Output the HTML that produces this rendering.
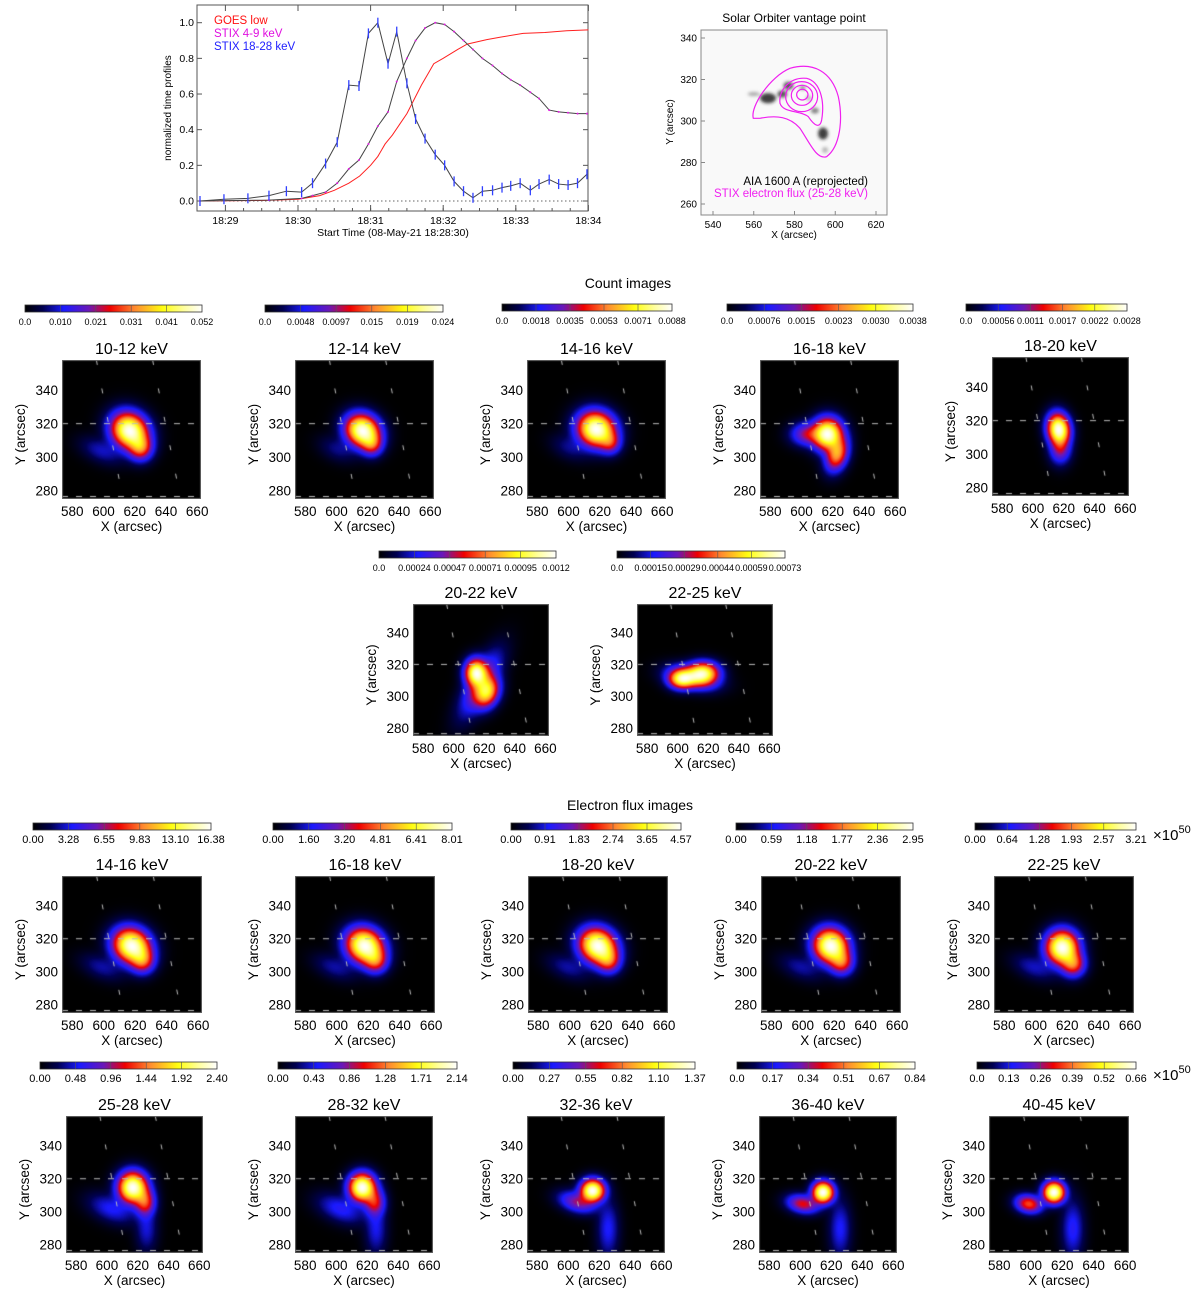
<!DOCTYPE html>
<html><head><meta charset="utf-8"><title>STIX flare figure</title>
<style>html,body{margin:0;padding:0;background:#fff}body{position:relative;width:1200px;height:1310px;overflow:hidden}svg{display:block;font-family:"Liberation Sans",Arial,sans-serif;position:absolute;left:0;top:0}canvas{position:absolute}</style>
</head><body>
<svg id="fig" width="1200" height="1310" viewBox="0 0 1200 1310" xmlns="http://www.w3.org/2000/svg">
<defs>
<linearGradient id="cmap" x1="0" x2="1" y1="0" y2="0">
<stop offset="0" stop-color="#000"/><stop offset="0.1" stop-color="#000050"/><stop offset="0.22" stop-color="#1a1aff"/>
<stop offset="0.36" stop-color="#6a18b8"/><stop offset="0.48" stop-color="#f00000"/><stop offset="0.62" stop-color="#ff8a30"/>
<stop offset="0.78" stop-color="#ffff10"/><stop offset="0.9" stop-color="#ffffa0"/><stop offset="1" stop-color="#fff"/>
</linearGradient>
<filter id="blr3" x="-50%" y="-50%" width="200%" height="200%"><feGaussianBlur stdDeviation="1.6"/></filter>
</defs>
<g id="root"></g>
</svg>
<script>
// ---------- time profile data (minutes after 18:28) ----------
const hxrTimes = [0.65,0.98,1.31,1.60,1.84,2.05,2.20,2.38,2.54,2.70,2.84,2.97,3.10,3.24,3.36,3.50,3.62,3.75,3.89,4.02,4.15,4.28,4.41,4.54,4.68,4.81,4.93,5.06,5.20,5.32,5.46,5.59,5.72,5.85,5.98];
const hxrValues = [0,0.01,0.015,0.03,0.055,0.05,0.10,0.21,0.33,0.65,0.645,0.94,1.0,0.77,0.95,0.66,0.46,0.35,0.26,0.20,0.11,0.055,0.018,0.055,0.06,0.075,0.085,0.10,0.06,0.095,0.12,0.095,0.09,0.10,0.15];
const sxrTimes = [0.65,1.60,2.05,2.20,2.38,2.54,2.70,2.84,2.97,3.10,3.24,3.36,3.50,3.62,3.75,3.89,4.02,4.15,4.28,4.41,4.54,4.68,4.81,4.93,5.06,5.20,5.32,5.46,5.59,5.72,5.85,5.98];
const sxrValues = [0,0.005,0.015,0.03,0.05,0.10,0.18,0.23,0.32,0.42,0.50,0.67,0.80,0.90,0.97,1.0,0.99,0.95,0.90,0.85,0.80,0.76,0.715,0.68,0.65,0.61,0.575,0.51,0.50,0.495,0.49,0.49];
const goesTimes = [0.65,1.5,2.0,2.3,2.5,2.7,2.85,3.0,3.1,3.2,3.3,3.4,3.5,3.6,3.7,3.8,3.87,4.0,4.2,4.33,4.6,4.8,5.1,5.4,5.7,6.0];
const goesValues = [0,0.003,0.01,0.03,0.06,0.10,0.14,0.20,0.25,0.32,0.37,0.43,0.49,0.57,0.65,0.72,0.77,0.80,0.85,0.88,0.905,0.92,0.94,0.945,0.955,0.96];
const timeTickLabels = ["18:29","18:30","18:31","18:32","18:33","18:34"];
const timeTickMinutes = [1,2,3,4,5,6];
const profTickValues = [0,0.2,0.4,0.6,0.8,1.0];

// ---------- image panels ----------
const panelTitles = ["10-12 keV","12-14 keV","14-16 keV","16-18 keV","18-20 keV","20-22 keV","22-25 keV",
 "14-16 keV","16-18 keV","18-20 keV","20-22 keV","22-25 keV","25-28 keV","28-32 keV","32-36 keV","36-40 keV","40-45 keV"];
const colorbarTicks = [
 ["0.0","0.010","0.021","0.031","0.041","0.052"],
 ["0.0","0.0048","0.0097","0.015","0.019","0.024"],
 ["0.0","0.0018","0.0035","0.0053","0.0071","0.0088"],
 ["0.0","0.00076","0.0015","0.0023","0.0030","0.0038"],
 ["0.0","0.00056","0.0011","0.0017","0.0022","0.0028"],
 ["0.0","0.00024","0.00047","0.00071","0.00095","0.0012"],
 ["0.0","0.00015","0.00029","0.00044","0.00059","0.00073"],
 ["0.00","3.28","6.55","9.83","13.10","16.38"],
 ["0.00","1.60","3.20","4.81","6.41","8.01"],
 ["0.00","0.91","1.83","2.74","3.65","4.57"],
 ["0.00","0.59","1.18","1.77","2.36","2.95"],
 ["0.00","0.64","1.28","1.93","2.57","3.21"],
 ["0.00","0.48","0.96","1.44","1.92","2.40"],
 ["0.00","0.43","0.86","1.28","1.71","2.14"],
 ["0.00","0.27","0.55","0.82","1.10","1.37"],
 ["0.0","0.17","0.34","0.51","0.67","0.84"],
 ["0.0","0.13","0.26","0.39","0.52","0.66"]];
// source components per panel: [x arcsec, y arcsec, sigmaX, sigmaY, rotation deg, peak]
const sources = [
 [[619,316,7,6,-30,1],[626,306,4.5,4.5,0,0.4],[601,304,8,4,-20,0.06]],
 [[619,316,6.5,5.5,-25,1],[625,308,4,4,0,0.3],[603,305,7,4,-20,0.04]],
 [[620,317,7,6,-15,1],[629,309,4,4,0,0.25],[603,306,7,4,-20,0.04]],
 [[619,314,5.5,5.5,0,1],[625,302,4,6,-20,0.5],[606,314,6,4,0,0.25]],
 [[619,315,4.2,5.5,10,1],[620,303,4,5,0,0.22]],
 [[617,315,4.2,5,0,1],[624,303,4.5,6,-25,0.7],[620,308,5,13,-30,0.25]],
 [[605,311,5,3.5,0,0.85],[619,315,6,4,0,0.95],[612,312,9,4,-10,0.55]],
 [[620,316,7,6,-25,1],[627,307,4.5,4.5,0,0.35],[601,303,8,4,-20,0.05]],
 [[620,316,7,6,-25,1],[627,307,4.5,4.5,0,0.33],[601,303,8,4,-20,0.05]],
 [[620,316,7,6,-25,1],[627,307,4.5,4.5,0,0.33],[601,303,8,4,-20,0.05]],
 [[620,316,6.5,6,-25,1],[627,306,4.5,4.5,0,0.35],[601,303,8,4,-20,0.05]],
 [[619,315,6,6,-15,1],[626,305,4.5,4.5,0,0.4],[601,303,8,4,-20,0.06]],
 [[619,315,5.5,5.5,0,1],[627,306,4,5,0,0.35],[605,302,9,4.5,-20,0.09],[628,290,4,8,0,0.07]],
 [[619,315,5,5,0,1],[627,306,4,5,0,0.3],[605,302,9,4.5,-20,0.1],[628,290,4,9,0,0.08]],
 [[618,313,4.5,4,0,1],[608,306,7,3.5,-15,0.22],[628,290,4,10,0,0.09]],
 [[617,312,4,3.8,0,1],[604,305,6,3.2,-10,0.3],[628,290,4,10,0,0.09]],
 [[617,312,4,3.8,0,1],[601,305,5,3.2,-10,0.38],[629,290,4,10,0,0.1]]];
const xTickValues = [580,600,620,640,660];
const yTickValues = [280,300,320,340];
const aiaXTicks = [540,560,580,600,620];
const aiaYTicks = [260,280,300,320,340];

// ---------- layout (not data) ----------
const layout = [
 {l:62,t:360,w:139,h:139,cb:[25,305,177]},{l:295,t:360,w:139,h:139,cb:[265,305,178]},
 {l:527,t:360,w:139,h:139,cb:[502,304,170]},{l:760,t:360,w:139,h:139,cb:[727,304,186]},
 {l:992,t:357,w:137,h:139,cb:[966,304,161]},
 {l:413,t:604,w:136,h:132,cb:[379,551,177]},{l:637,t:604,w:136,h:132,cb:[617,551,168]},
 {l:62,t:876,w:140,h:137,cb:[33,823,178]},{l:295,t:876,w:140,h:137,cb:[273,823,179]},
 {l:528,t:876,w:140,h:137,cb:[511,823,170]},{l:761,t:876,w:140,h:137,cb:[736,823,177]},
 {l:994,t:876,w:140,h:137,cb:[975,823,161]},
 {l:66,t:1116,w:137,h:137,cb:[40,1062,177]},{l:295,t:1116,w:138,h:137,cb:[278,1062,179]},
 {l:527,t:1116,w:138,h:137,cb:[513,1062,182]},{l:759,t:1116,w:138,h:137,cb:[737,1062,178]},
 {l:989,t:1116,w:140,h:137,cb:[977,1062,159]}];

const NS="http://www.w3.org/2000/svg";
const root=document.getElementById('root');
function mk(tag,attrs,parent,txt){const e=document.createElementNS(NS,tag);for(const k in attrs)e.setAttribute(k,attrs[k]);if(txt!==undefined)e.textContent=txt;(parent||root).appendChild(e);return e;}

// ===== Time profile chart =====
const tp=mk('g',{});


const PX0=197,PX1=588,PY0=5,PY1=211;
const tx=t=>225.4+(t-1)*72.6, ty=v=>201-v*178.3;
mk('rect',{x:PX0,y:PY0,width:PX1-PX0,height:PY1-PY0,fill:'none',stroke:'#555','stroke-width':1},tp);
mk('line',{x1:PX0,x2:PX1,y1:ty(0),y2:ty(0),stroke:'#666','stroke-dasharray':'1.5,2.5','stroke-width':1},tp);
profTickValues.forEach((v,i)=>{
 mk('line',{x1:PX0,x2:PX0+5,y1:ty(v),y2:ty(v),stroke:'#555'},tp);
 mk('line',{x1:PX1,x2:PX1-5,y1:ty(v),y2:ty(v),stroke:'#555'},tp);
 const t=mk('text',{x:194,y:ty(v)+3.5,'font-size':10.5,'text-anchor':'end'},tp,v.toFixed(1));
 
 
});
timeTickMinutes.forEach((m,i)=>{
 mk('line',{x1:tx(m),x2:tx(m),y1:PY1,y2:PY1-6,stroke:'#555'},tp);
 mk('line',{x1:tx(m),x2:tx(m),y1:PY0,y2:PY0+6,stroke:'#555'},tp);
 const t=mk('text',{x:tx(m),y:224,'font-size':10.5,'text-anchor':'middle'},tp,timeTickLabels[i]);
 
 
});
for(let m=1.25;m<6;m+=0.25){mk('line',{x1:tx(m),x2:tx(m),y1:PY1,y2:PY1-3,stroke:'#555'},tp);}
let xt=mk('text',{x:393,y:236,'font-size':10.5,'text-anchor':'middle'},tp,'Start Time (08-May-21 18:28:30)');

let yt=mk('text',{x:171,y:108,'font-size':10,'text-anchor':'middle',transform:'rotate(-90 171 108)'},tp,'normalized time profiles');

function poly(ts,vs,col,w){return mk('polyline',{points:ts.map((t,i)=>tx(t)+','+ty(vs[i])).join(' '),fill:'none',stroke:col,'stroke-width':w},tp);}
const gl=poly(goesTimes,goesValues,'#ff2020',1);

const sl=poly(sxrTimes,sxrValues,'#444',1);

sxrTimes.forEach((t,i)=>{const c=mk('circle',{cx:tx(t),cy:ty(sxrValues[i]),r:1,fill:'#e020e0'},tp);
 });
const hl=poly(hxrTimes,hxrValues,'#444',1);

hxrTimes.forEach((t,i)=>{const e=mk('line',{x1:tx(t),x2:tx(t),y1:ty(hxrValues[i])-5,y2:ty(hxrValues[i])+5,stroke:'#3040ff','stroke-width':1.3},tp);
 });
[['GOES low','#ff1010',24],['STIX 4-9 keV','#e010e0',37],['STIX 18-28 keV','#2020ff',50]].forEach(a=>{
 const t=mk('text',{x:214,y:a[2],'font-size':11.5,fill:a[1]},tp,a[0]);
 });

// ===== AIA panel =====
const ap=mk('g',{});


const ax=x=>713+(x-540)*2.0375, ay=y=>38+(340-y)*2.075;
mk('rect',{x:701,y:30,width:186,height:185,fill:'#f9f9f9',stroke:'#888'},ap);
const sm=mk('g',{filter:'url(#blr3)'},ap);
[[567,311,4,2.5,'#222',0.85],[560,313,3,1,'#777',0.6],[574,313,2.5,1.8,'#333',0.8],[577,317,2.5,2,'#333',0.8],[584,316,1.5,1.2,'#666',0.7],[590,305,2,1.5,'#555',0.7],[594,294,2.5,3,'#222',0.85],[595,286,1.5,1.5,'#888',0.6],[587,311,1.5,1.5,'#999',0.6]].forEach(s=>{
 mk('ellipse',{cx:ax(s[0]),cy:ay(s[1]),rx:s[2]*2,ry:s[3]*2,fill:s[4],opacity:s[5]},sm);});
const cg=mk('g',{fill:'none',stroke:'#f020f0','stroke-width':1.2,transform:'translate(640,0) scale(0.3333)'},ap);

mk('path',{d:'M340,355 C330,320 390,230 450,205 C520,185 575,215 595,290 C610,360 600,440 560,470 C530,480 510,430 480,385 C450,350 410,345 360,355 Z','stroke-width':3.6},cg);
mk('path',{d:'M420,310 C415,270 450,230 500,235 C540,245 555,300 545,360 C540,385 525,380 505,350 C480,330 430,340 420,310 Z','stroke-width':3.6},cg);
mk('ellipse',{cx:485,cy:290,rx:48,ry:45,'stroke-width':3.6},cg);
mk('ellipse',{cx:486,cy:286,rx:32,ry:30,'stroke-width':3.6},cg);
mk('ellipse',{cx:487,cy:284,rx:17,ry:16,'stroke-width':3.6},cg);
aiaXTicks.forEach(v=>{mk('line',{x1:ax(v),x2:ax(v),y1:215,y2:211,stroke:'#888'},ap);
 mk('text',{x:ax(v),y:228,'font-size':10,'text-anchor':'middle'},ap,String(v));});
aiaYTicks.forEach(v=>{mk('line',{x1:701,x2:705,y1:ay(v),y2:ay(v),stroke:'#888'},ap);
 mk('text',{x:697,y:ay(v)+3.5,'font-size':10,'text-anchor':'end'},ap,String(v));});
mk('text',{x:794,y:238,'font-size':10,'text-anchor':'middle'},ap,'X (arcsec)');
mk('text',{x:673,y:122,'font-size':10,'text-anchor':'middle',transform:'rotate(-90 673 122)'},ap,'Y (arcsec)');
mk('text',{x:794,y:22,'font-size':12,'text-anchor':'middle'},ap,'Solar Orbiter vantage point');
mk('text',{x:868,y:185,'font-size':11.5,'text-anchor':'end'},ap,'AIA 1600 A (reprojected)');
mk('text',{x:868,y:197,'font-size':11.5,'text-anchor':'end',fill:'#f020f0'},ap,'STIX electron flux (25-28 keV)');

// section headers
let h1=mk('text',{x:628,y:288,'font-size':14,'text-anchor':'middle'},root,'Count images');

let h2=mk('text',{x:630,y:810,'font-size':14,'text-anchor':'middle'},root,'Electron flux images');

[[1153,840],[1153,1080]].forEach(p=>{const t=mk('text',{x:p[0],y:p[1],'font-size':15},root);
 
 t.innerHTML='×10<tspan dy="-7" font-size="11">50</tspan>';});

// ===== colormap =====
const cmStops=[[0,0,0,0],[0.1,0,0,80],[0.22,26,26,255],[0.36,106,24,184],[0.48,240,0,0],[0.62,255,138,48],[0.78,255,255,16],[0.9,255,255,160],[1,255,255,255]];
function cmap(v){v=Math.max(0,Math.min(1,v));for(let i=1;i<cmStops.length;i++){if(v<=cmStops[i][0]){const a=cmStops[i-1],b=cmStops[i],f=(v-a[0])/(b[0]-a[0]);return [a[1]+(b[1]-a[1])*f,a[2]+(b[2]-a[2])*f,a[3]+(b[3]-a[3])*f];}}return [255,255,255];}

// ===== Image panels =====
panelTitles.forEach((title,pi)=>{
 const L=layout[pi];
 const g=mk('g',{});
 
 
 const cb=L.cb;
 const cr=mk('rect',{x:cb[0],y:cb[1],width:cb[2],height:7,fill:'url(#cmap)',stroke:'#333','stroke-width':0.8},g);
 
 colorbarTicks[pi].forEach((lab,i)=>{
  const x=cb[0]+cb[2]*i/5;
  if(i>0&&i<5)mk('line',{x1:x,x2:x,y1:cb[1],y2:cb[1]+7,stroke:'#555','stroke-width':0.6},g);
  const t=mk('text',{x:x,y:cb[1]+20,'font-size':pi>=7?11:9,'text-anchor':'middle'},g,lab);
  
 });
 const tt=mk('text',{x:L.l+L.w/2,y:L.t-6,'font-size':16,'text-anchor':'middle'},g,title);
 
 const X=x=>(x-576)/89*L.w, Y=y=>(358-y)/83*L.h;
 const cv=document.createElement('canvas');
 cv.width=L.w;cv.height=L.h;cv.style.left=L.l+'px';cv.style.top=L.t+'px';
 
 
 document.body.appendChild(cv);
 const ctx=cv.getContext('2d');
 const img=ctx.createImageData(L.w,L.h);
 const field=new Float32Array(L.w*L.h);let mx=0;
 const comps=sources[pi].map(c=>{const r=c[4]*Math.PI/180;return {x:c[0],y:c[1],sx:c[2],sy:c[3],c:Math.cos(r),s:Math.sin(r),p:c[5]};});
 for(let j=0;j<L.h;j++){const ya=358-j*83/L.h;for(let i=0;i<L.w;i++){const xa=576+i*89/L.w;let v=0;
  for(const q of comps){const dx=xa-q.x,dy=ya-q.y;const u=dx*q.c+dy*q.s,w=-dx*q.s+dy*q.c;v+=q.p*Math.exp(-0.5*(u*u/(q.sx*q.sx)+w*w/(q.sy*q.sy)));}
  field[j*L.w+i]=v;if(v>mx)mx=v;}}
 for(let k=0;k<field.length;k++){const c=cmap(Math.pow(field[k]/mx,0.62));img.data[4*k]=c[0];img.data[4*k+1]=c[1];img.data[4*k+2]=c[2];img.data[4*k+3]=255;}
 ctx.putImageData(img,0,0);
 ctx.strokeStyle='#bbb';ctx.lineWidth=1;
 ctx.setLineDash([6,8]);
 ctx.beginPath();ctx.moveTo(0,Y(320));ctx.lineTo(L.w,Y(320));ctx.moveTo(0,Y(276.5));ctx.lineTo(L.w,Y(276.5));ctx.stroke();
 ctx.setLineDash([5,24]);
 ctx.beginPath();ctx.moveTo(X(598),0);ctx.lineTo(X(615),L.h);ctx.moveTo(X(634),0);ctx.lineTo(X(652),L.h);ctx.stroke();
 ctx.setLineDash([]);ctx.strokeStyle='#666';ctx.strokeRect(0.5,0.5,L.w-1,L.h-1);
 xTickValues.forEach(v=>{const t=mk('text',{x:L.l+X(v)+4,y:L.t+L.h+17,'font-size':13.5,'text-anchor':'middle'},g,String(v));
  });
 yTickValues.forEach(v=>{const t=mk('text',{x:L.l-4,y:L.t+Y(v)+5,'font-size':13.5,'text-anchor':'end'},g,String(v));
  });
 const xa=mk('text',{x:L.l+L.w/2,y:L.t+L.h+32,'font-size':13.5,'text-anchor':'middle'},g,'X (arcsec)');
 
 const yx=L.l-37, yy=L.t+L.h/2+5;
 const ya=mk('text',{x:yx,y:yy,'font-size':13.5,'text-anchor':'middle',transform:'rotate(-90 '+yx+' '+yy+')'},g,'Y (arcsec)');
 
});
</script>
</body></html>
